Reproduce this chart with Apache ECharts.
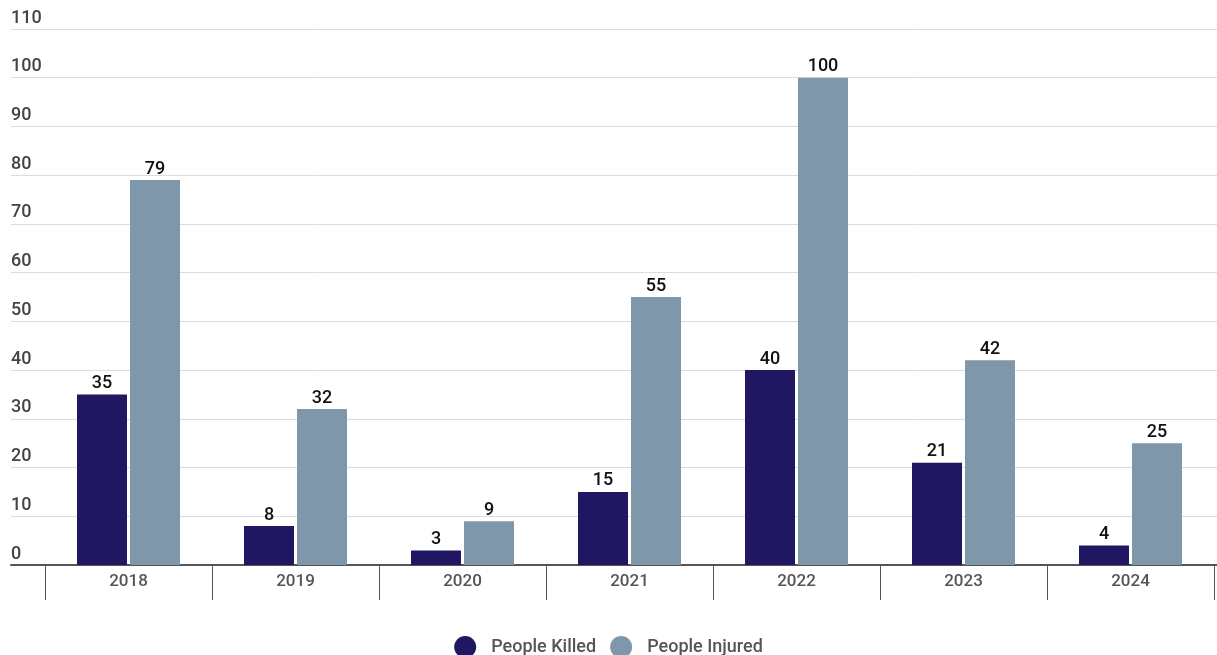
<!DOCTYPE html>
<html>
<head>
<meta charset="utf-8">
<script src="https://cdn.jsdelivr.net/npm/echarts@6/dist/echarts.min.js"></script>
<style>html,body{margin:0;padding:0;background:#fff}#c{width:1217px;height:655px}</style>
</head>
<body>
<div id="c"></div>
<script>
const years = ['2018','2019','2020','2021','2022','2023','2024'];
const killed = [35, 8, 3, 15, 40, 21, 4];
const injured = [79, 32, 9, 55, 100, 42, 25];
const seriesNames = ['People Killed', 'People Injured'];
const colors = ['#201763', '#7f97ab'];

const chart = echarts.init(document.getElementById('c'));
const FONT = 'Roboto, "Noto Sans", sans-serif';
chart.setOption({
  animation: false,
  textStyle: { fontFamily: FONT },
  grid: [
    { left: 11, right: 0, top: 29, bottom: 90 },
    { left: 45, right: 3, top: 29, bottom: 90 }
  ],
  legend: {
    data: seriesNames,
    top: 631,
    left: 'center',
    icon: 'circle',
    itemWidth: 22,
    itemHeight: 22,
    itemGap: 14,
    textStyle: { fontSize: 18, color: '#555', fontFamily: FONT, fontWeight: 500, padding: [0, 0, 0, 10] }
  },
  xAxis: [
    {
      gridIndex: 0, type: 'value', min: 0, max: 1,
      axisLine: { show: true, lineStyle: { color: '#555', width: 2 } },
      axisTick: { show: false }, axisLabel: { show: false }, splitLine: { show: false }
    },
    {
      gridIndex: 1, type: 'category', data: years,
      axisLine: { show: false },
      axisTick: { show: true, length: 35, lineStyle: { color: '#555', width: 1 } },
      axisLabel: { color: '#555', fontSize: 17, fontWeight: 500, margin: 8, fontFamily: FONT }
    }
  ],
  yAxis: [
    {
      gridIndex: 0, type: 'value', min: 0, max: 110, interval: 10,
      axisLine: { show: false }, axisTick: { show: false },
      axisLabel: { inside: true, margin: 0, verticalAlign: 'bottom', padding: [0,0,2,0], color: '#444', fontSize: 18, fontWeight: 500, fontFamily: FONT },
      splitLine: { lineStyle: { color: '#dcdcdc', width: 1 } }
    },
    {
      gridIndex: 1, type: 'value', min: 0, max: 110, interval: 10,
      show: false, splitLine: { show: false }
    }
  ],
  series: [
    {
      name: seriesNames[0], type: 'bar', xAxisIndex: 1, yAxisIndex: 1,
      data: killed, barWidth: 50, barGap: '6%',
      itemStyle: { color: colors[0] },
      label: { show: true, position: 'top', distance: 2, color: '#111', fontSize: 18, fontWeight: 500, fontFamily: FONT }
    },
    {
      name: seriesNames[1], type: 'bar', xAxisIndex: 1, yAxisIndex: 1,
      data: injured, barWidth: 50, barGap: '6%',
      itemStyle: { color: colors[1] },
      label: { show: true, position: 'top', distance: 2, color: '#111', fontSize: 18, fontWeight: 500, fontFamily: FONT }
    }
  ]
});
</script>
</body>
</html>
